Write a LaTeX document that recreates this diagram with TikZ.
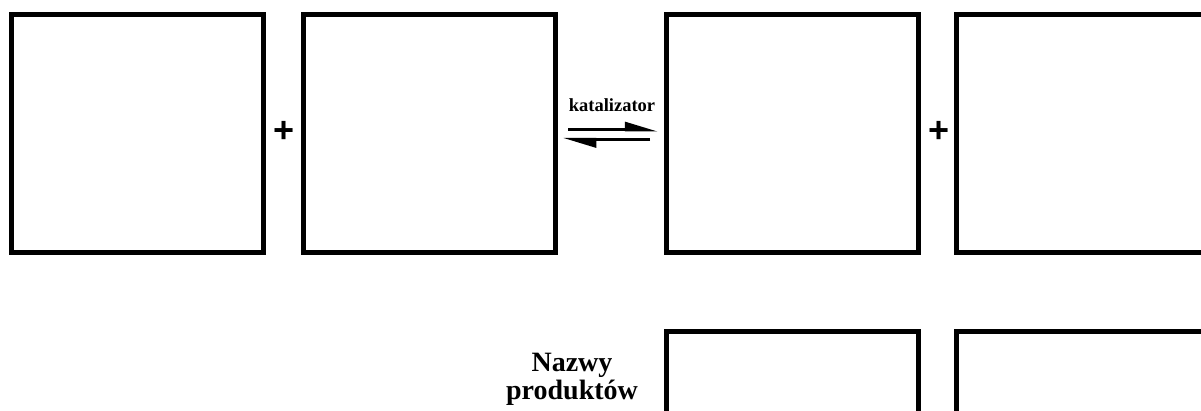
\documentclass[tikz,border=0pt]{standalone}
\usepackage{fontspec}
\setmainfont{Liberation Serif}
\newfontfamily\plusfont{Liberation Sans}
\usetikzlibrary{arrows.meta}
\begin{document}
\begin{tikzpicture}[x=1pt,y=-1pt,
  slot/.style={draw, line width=5pt, rectangle, inner sep=0pt, outer sep=0pt,
    minimum width=252pt, minimum height=238.5pt, anchor=north west},
  plussign/.style={font=\plusfont\bfseries\fontsize{36}{36}\selectfont, inner sep=0pt},
  harp/.style={line width=3pt, -{Triangle[left,length=28pt,width=16pt]}},
  lbl/.style={inner sep=0pt, font=\bfseries}]
\useasboundingbox (0,0) rectangle (1201,411);
\node[slot] (r1) at (11.5,14.5) {};
\node[slot] (r2) at (303.5,14.5) {};
\node[slot] (p1) at (666,14.5) {};
\node[slot] (p2) at (956.5,14.5) {};
\node[slot] (n1) at (666,331.5) {};
\node[slot] (n2) at (956.5,331.5) {};
\node[plussign] (plusA) at (284.3,132.3) {+};
\node[plussign] (plusB) at (939,131.7) {+};
\coordinate (u1) at (568,130);
\coordinate (u2) at (658,130);
\coordinate (l1) at (650,139.5);
\coordinate (l2) at (563,139.5);
\draw[harp] (u1) -- (u2);
\draw[harp] (l1) -- (l2);
\node[lbl, font=\bfseries\fontsize{18.5}{18.5}\selectfont, anchor=base] (kat) at (612,112) {katalizator};
\node[lbl, font=\bfseries\fontsize{28}{28.5}\selectfont, align=center, anchor=base] (nazwy) at (572,399.5) {Nazwy\\produktów};
\end{tikzpicture}
\end{document}
